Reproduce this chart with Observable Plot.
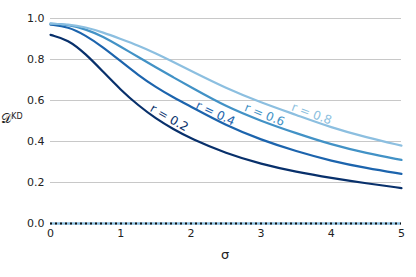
<!DOCTYPE html>
<html><head><meta charset="utf-8">
<script src="https://cdn.jsdelivr.net/npm/d3@7"></script>
<script src="https://cdn.jsdelivr.net/npm/@observablehq/plot@0.6"></script>
<style>body{margin:0;background:#fff}</style>
</head><body><div id="chart"></div>
<script>
const sigma = [0, 0.25, 0.5, 0.75, 1, 1.25, 1.5, 1.75, 2, 2.5, 3, 3.5, 4, 4.5, 5];
const r02 = [0.920, 0.897, 0.828, 0.740, 0.652, 0.576, 0.512, 0.460, 0.414, 0.342, 0.290, 0.252, 0.222, 0.196, 0.173];
const r04 = [0.970, 0.960, 0.918, 0.860, 0.792, 0.724, 0.665, 0.615, 0.570, 0.478, 0.408, 0.352, 0.305, 0.270, 0.242];
const r06 = [0.975, 0.970, 0.948, 0.912, 0.862, 0.812, 0.762, 0.713, 0.665, 0.570, 0.500, 0.440, 0.385, 0.343, 0.310];
const r08 = [0.975, 0.972, 0.958, 0.932, 0.900, 0.868, 0.830, 0.788, 0.745, 0.660, 0.590, 0.530, 0.468, 0.420, 0.380];
const seriesNames = ["r = 0.2", "r = 0.4", "r = 0.6", "r = 0.8"];
const seriesColors = ["#08306b", "#1c64ad", "#4292c6", "#8cbfe0"];
const labelX = [1.69, 2.35, 3.05, 3.72];
const labelY = [0.515, 0.537, 0.53, 0.535];
const labelAngle = [30, 25, 22, 20];
const yTicks = [0, 0.2, 0.4, 0.6, 0.8, 1.0];
const xTicks = [0, 1, 2, 3, 4, 5];

const all = [r02, r04, r06, r08];
const rows = [];
all.forEach((vals, i) => vals.forEach((v, j) => rows.push({s: seriesNames[i], x: sigma[j], y: v})));
const labels = seriesNames.map((s, i) => ({s, x: labelX[i], y: labelY[i], a: labelAngle[i]}));

const plot = Plot.plot({
  width: 416, height: 277,
  marginLeft: 50, marginRight: 15, marginTop: 18, marginBottom: 54,
  style: {fontFamily: "DejaVu Sans", fontSize: "11px", color: "#222", background: "#fff"},
  x: {domain: [0, 5], ticks: xTicks, tickSize: 0, tickPadding: 6, tickFormat: d3.format("d"), label: null},
  y: {domain: [0, 1], ticks: yTicks, tickSize: 0, tickPadding: 6, tickFormat: d3.format(".1f"), label: null, grid: false},
  color: {domain: seriesNames, range: seriesColors},
  marks: [
    Plot.gridY(yTicks.filter(d => d > 0), {stroke: "#c8c8c8", strokeOpacity: 1, strokeWidth: 1}),
    Plot.ruleY([0], {stroke: "#8cbfe0", strokeWidth: 2.5}),
    Plot.ruleY([0], {stroke: "#111", strokeWidth: 2.2, strokeDasharray: "2,3"}),
    Plot.line(rows, {x: "x", y: "y", z: "s", stroke: "s", strokeWidth: 2.2, curve: "basis"}),
    Plot.text(labels, {x: "x", y: "y", text: "s", fill: "s", rotate: "a", fontSize: 12})
  ]
});
document.getElementById("chart").appendChild(plot);
const svg = d3.select(plot);
const yl = svg.append("text").attr("x", 12).attr("y", 123).attr("font-family", "DejaVu Sans").attr("font-size", 13).attr("fill", "#222");
yl.append("tspan").text("𝒟");
yl.append("tspan").attr("dy", -4).attr("font-size", 8).text("KD");
svg.append("text").attr("x", 225).attr("y", 259).attr("text-anchor", "middle").attr("font-family", "DejaVu Sans").attr("font-size", 13).attr("fill", "#222").text("σ");
</script></body></html>
